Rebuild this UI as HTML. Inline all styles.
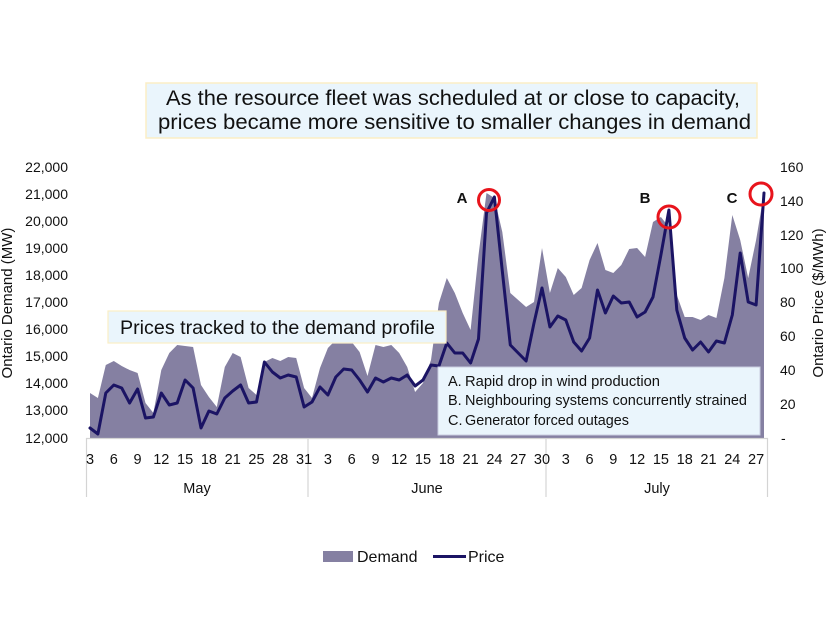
<!DOCTYPE html>
<html><head><meta charset="utf-8">
<style>
html,body{margin:0;padding:0;background:#fff;}
svg{display:block;}
text{font-family:"Liberation Sans",sans-serif;fill:#111;}
</style></head>
<body>
<svg width="826" height="620" viewBox="0 0 826 620" xmlns="http://www.w3.org/2000/svg">
<rect width="826" height="620" fill="#fff"/>

<!-- Title box -->
<rect x="146" y="83" width="611" height="55" fill="#eaf5fc" stroke="#fbeec5" stroke-width="1.5"/>
<text x="166" y="105" font-size="21" textLength="574" lengthAdjust="spacingAndGlyphs">As the resource fleet was scheduled at or close to capacity,</text>
<text x="158" y="129" font-size="21" textLength="593" lengthAdjust="spacingAndGlyphs">prices became more sensitive to smaller changes in demand</text>

<!-- Left axis labels -->
<g font-size="14" text-anchor="end">
<text x="68" y="172">22,000</text>
<text x="68" y="199">21,000</text>
<text x="68" y="226">20,000</text>
<text x="68" y="253">19,000</text>
<text x="68" y="280">18,000</text>
<text x="68" y="307">17,000</text>
<text x="68" y="334">16,000</text>
<text x="68" y="361">15,000</text>
<text x="68" y="388">14,000</text>
<text x="68" y="415">13,000</text>
<text x="68" y="443">12,000</text>
</g>
<text transform="translate(12,303) rotate(-90)" font-size="15" text-anchor="middle">Ontario Demand (MW)</text>

<!-- Right axis labels -->
<g font-size="14" text-anchor="start">
<text x="780" y="172">160</text>
<text x="780" y="206">140</text>
<text x="780" y="240">120</text>
<text x="780" y="273">100</text>
<text x="780" y="307">80</text>
<text x="780" y="341">60</text>
<text x="780" y="375">40</text>
<text x="780" y="409">20</text>
<text x="781" y="443">-</text>
</g>
<text transform="translate(823,303) rotate(-90)" font-size="15" text-anchor="middle">Ontario Price ($/MWh)</text>

<!-- Demand area -->
<path fill="#8580a2" d="M90,438 L90.0,393 L97.9,398 L105.8,365 L113.8,361 L121.7,366 L129.6,370 L137.6,373 L145.5,403 L153.4,413 L161.3,370 L169.3,353 L177.2,345 L185.1,346 L193.1,347 L201.0,385 L208.9,397 L216.8,407 L224.8,367 L232.7,353 L240.6,357 L248.6,388 L256.5,395 L264.4,362 L272.4,358 L280.3,361 L288.2,357 L296.2,358 L304.1,388 L312.0,398 L320.0,368 L327.9,348 L335.8,340 L343.7,340 L351.7,342 L359.6,352 L367.5,376 L375.5,345 L383.4,347 L391.3,345 L399.2,353 L407.2,367 L415.1,392 L423.0,383 L431.0,360 L438.9,303 L446.8,278 L454.8,293 L462.7,313 L470.6,330 L478.5,255 L486.5,193 L494.4,198 L502.3,232 L510.3,293 L518.2,300 L526.1,307 L534.0,302 L542.0,248 L549.9,293 L557.8,268 L565.8,277 L573.7,295 L581.6,288 L589.6,260 L597.5,243 L605.4,270 L613.3,273 L621.3,265 L629.2,249 L637.1,248 L645.1,257 L653.0,222 L660.9,217 L668.9,227 L676.8,295 L684.7,317 L692.6,317 L700.6,320 L708.5,315 L716.4,318 L724.4,278 L732.3,215 L740.2,240 L748.2,278 L756.1,240 L764.0,193 L764,438 Z"/>

<!-- Price line -->
<polyline fill="none" stroke="#1b1464" stroke-width="3" stroke-linejoin="round" stroke-linecap="round" points="90.0,428 97.9,434 105.8,393 113.8,385 121.7,388 129.6,403 137.6,389 145.5,418 153.4,417 161.3,393 169.3,405 177.2,403 185.1,380 193.1,388 201.0,428 208.9,411 216.8,414 224.8,398 232.7,391 240.6,385 248.6,403 256.5,402 264.4,362 272.4,372 280.3,378 288.2,375 296.2,377 304.1,407 312.0,402 320.0,387 327.9,395 335.8,377 343.7,369 351.7,370 359.6,380 367.5,392 375.5,378 383.4,382 391.3,378 399.2,380 407.2,375 415.1,386 423.0,380 431.0,365 438.9,366 446.8,343 454.8,353 462.7,353 470.6,363 478.5,339 486.5,213 494.4,197 502.3,271 510.3,345 518.2,353 526.1,361 534.0,323 542.0,288 549.9,327 557.8,316 565.8,320 573.7,342 581.6,351 589.6,338 597.5,290 605.4,313 613.3,296 621.3,303 629.2,302 637.1,317 645.1,312 653.0,297 660.9,255 668.9,210 676.8,310 684.7,338 692.6,350 700.6,342 708.5,352 716.4,341 724.4,343 732.3,315 740.2,253 748.2,302 756.1,305 764.0,193"/>

<!-- X axis -->
<g stroke="#d4d4d4" stroke-width="1.2">
<line x1="86" y1="438.5" x2="768" y2="438.5"/>
<line x1="86.5" y1="438" x2="86.5" y2="497"/>
<line x1="308" y1="438" x2="308" y2="497"/>
<line x1="546" y1="438" x2="546" y2="497"/>
<line x1="767.5" y1="438" x2="767.5" y2="497"/>
</g>
<g font-size="14.5" text-anchor="middle">
<text x="90.0" y="464">3</text>
<text x="113.8" y="464">6</text>
<text x="137.6" y="464">9</text>
<text x="161.3" y="464">12</text>
<text x="185.1" y="464">15</text>
<text x="208.9" y="464">18</text>
<text x="232.7" y="464">21</text>
<text x="256.5" y="464">25</text>
<text x="280.3" y="464">28</text>
<text x="304.1" y="464">31</text>
<text x="327.9" y="464">3</text>
<text x="351.7" y="464">6</text>
<text x="375.5" y="464">9</text>
<text x="399.2" y="464">12</text>
<text x="423.0" y="464">15</text>
<text x="446.8" y="464">18</text>
<text x="470.6" y="464">21</text>
<text x="494.4" y="464">24</text>
<text x="518.2" y="464">27</text>
<text x="542.0" y="464">30</text>
<text x="565.8" y="464">3</text>
<text x="589.6" y="464">6</text>
<text x="613.3" y="464">9</text>
<text x="637.1" y="464">12</text>
<text x="660.9" y="464">15</text>
<text x="684.7" y="464">18</text>
<text x="708.5" y="464">21</text>
<text x="732.3" y="464">24</text>
<text x="756.1" y="464">27</text>
<text x="197" y="493">May</text>
<text x="427" y="493">June</text>
<text x="657" y="493">July</text>
</g>

<!-- Prices tracked box -->
<rect x="108" y="311" width="338" height="32" fill="#eaf5fc" stroke="#fbeec5" stroke-width="1.2"/>
<text x="120" y="334" font-size="19.5" textLength="315" lengthAdjust="spacingAndGlyphs">Prices tracked to the demand profile</text>

<!-- Annotation box -->
<rect x="438" y="367" width="322" height="68" fill="#eaf5fc" stroke="#c9cde0" stroke-width="1"/>
<g font-size="14.5">
<text x="448" y="386">A.</text>
<text x="465" y="386" textLength="195" lengthAdjust="spacingAndGlyphs">Rapid drop in wind production</text>
<text x="448" y="405">B.</text>
<text x="465" y="405" textLength="282" lengthAdjust="spacingAndGlyphs">Neighbouring systems concurrently strained</text>
<text x="448" y="425">C.</text>
<text x="465" y="425" textLength="164" lengthAdjust="spacingAndGlyphs">Generator forced outages</text>
</g>

<!-- Peak labels and circles -->
<g font-size="15" font-weight="bold" text-anchor="middle">
<text x="462" y="203">A</text>
<text x="645" y="203">B</text>
<text x="732" y="203">C</text>
</g>
<g fill="none" stroke="#e8141c" stroke-width="3">
<circle cx="489" cy="200" r="10.5"/>
<circle cx="669" cy="217" r="11"/>
<circle cx="761" cy="194" r="11"/>
</g>

<!-- Legend -->
<rect x="323" y="551" width="30" height="11" fill="#8580a2"/>
<text x="357" y="562" font-size="16">Demand</text>
<line x1="433" y1="556.5" x2="466" y2="556.5" stroke="#1b1464" stroke-width="3"/>
<text x="468" y="562" font-size="16">Price</text>
</svg>
</body></html>
